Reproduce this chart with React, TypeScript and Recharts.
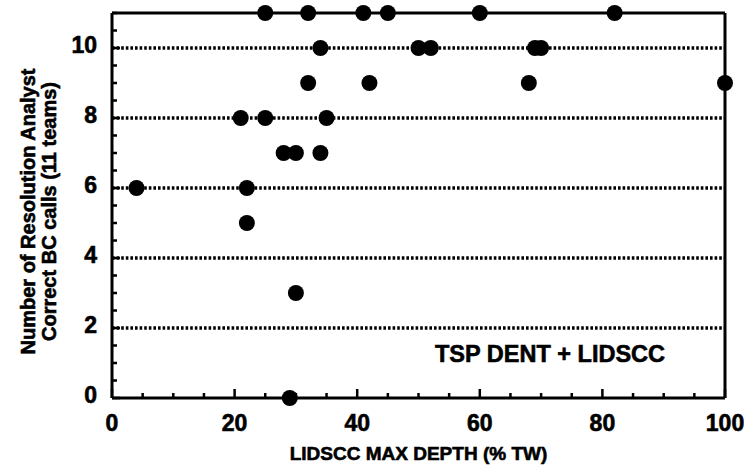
import { ReferenceLine, Scatter, ScatterChart, XAxis, YAxis } from 'recharts'

// LIDSCC max depth (% TW) and number of correct BC calls
const depth = [25, 32, 41, 45, 60, 82, 34, 50, 52, 69, 70, 32, 42, 68, 100, 21, 25, 35, 28, 30, 34, 4, 22, 22, 30, 29]
const calls = [11, 11, 11, 11, 11, 11, 10, 10, 10, 10, 10, 9, 9, 9, 9, 8, 8, 8, 7, 7, 7, 6, 6, 5, 3, 0]

const xTicks = [0, 5, 10, 15, 20, 25, 30, 35, 40, 45, 50, 55, 60, 65, 70, 75, 80, 85, 90, 95, 100]
const xLabels = [0, 20, 40, 60, 80, 100]
const yTicks = [0, 0.5, 1, 1.5, 2, 2.5, 3, 3.5, 4, 4.5, 5, 5.5, 6, 6.5, 7, 7.5, 8, 8.5, 9, 9.5, 10, 10.5, 11]
const yLabels = [0, 2, 4, 6, 8, 10]
const gridLevels = [2, 4, 6, 8, 10]

const data = depth.map((d, i) => ({ depth: d, calls: calls[i] }))

const FONT = '"Liberation Sans", Arial, Helvetica, sans-serif'
const axisLine = { stroke: '#000', strokeWidth: 3 }
// scanned original has heavy glyphs, thicken a little
const heavy = { fontWeight: 'bold', fontFamily: FONT, fill: '#000', stroke: '#000', strokeWidth: 0.6 }

const BottomTick = (p: any) => {
  const v = p.payload.value
  const major = xLabels.includes(v)
  return (
    <g>
      <line x1={p.x} x2={p.x} y1={p.y} y2={p.y - (major ? 9 : 5)} stroke="#000" strokeWidth={2.5} />
      {major && (
        <text x={p.x} y={p.y + 33} textAnchor="middle" fontSize={23} {...heavy}>
          {v}
        </text>
      )}
    </g>
  )
}

const TopTick = (p: any) => {
  const major = xLabels.includes(p.payload.value)
  return <line x1={p.x} x2={p.x} y1={p.y} y2={p.y + (major ? 10 : 6)} stroke="#000" strokeWidth={2.5} />
}

const LeftTick = (p: any) => {
  const v = p.payload.value
  const major = yLabels.includes(v)
  return (
    <g>
      <line x1={p.x} x2={p.x + (major ? 8 : 5)} y1={p.y} y2={p.y} stroke="#000" strokeWidth={2.5} />
      {major && (
        <text x={p.x - 15} y={p.y + 5} textAnchor="end" fontSize={23} {...heavy}>
          {v}
        </text>
      )}
    </g>
  )
}

const RightTick = (p: any) => {
  const major = yLabels.includes(p.payload.value)
  return <line x1={p.x} x2={p.x - (major ? 8 : 5)} y1={p.y} y2={p.y} stroke="#000" strokeWidth={2.5} />
}

const Dot = (p: any) => <circle cx={p.cx} cy={p.cy} r={8} fill="#000" />

const XTitle = (p: any) => {
  const vb = p.viewBox
  return (
    <text x={vb.x + vb.width / 2} y={vb.y + 62} textAnchor="middle" fontSize={19} {...heavy}>
      LIDSCC MAX DEPTH (% TW)
    </text>
  )
}

const YTitle = (p: any) => {
  const vb = p.viewBox
  const cy = vb.y + vb.height / 2 + 6
  return (
    <g fontSize={20} {...heavy}>
      <text x={35} y={cy} textAnchor="middle" transform={`rotate(-90 35 ${cy})`}>
        Number of Resolution Analyst
      </text>
      <text x={56} y={cy} textAnchor="middle" transform={`rotate(-90 56 ${cy})`}>
        Correct BC calls (11 teams)
      </text>
    </g>
  )
}

export default function App() {
  return (
    <div style={{ position: 'absolute', left: 0, top: 0, background: '#fff' }}>
      <ScatterChart width={744} height={467} margin={{ top: 0, right: 0, bottom: 0, left: 0 }}>
        <XAxis
          type="number"
          dataKey="depth"
          domain={[0, 100]}
          ticks={xTicks}
          interval={0}
          height={69}
          tickSize={0}
          tickMargin={0}
          axisLine={axisLine}
          tick={BottomTick}
          label={<XTitle />}
        />
        <XAxis
          xAxisId="top"
          orientation="top"
          type="number"
          domain={[0, 100]}
          ticks={xTicks}
          interval={0}
          height={13}
          tickSize={0}
          tickMargin={0}
          axisLine={axisLine}
          tick={TopTick}
        />
        <YAxis
          type="number"
          dataKey="calls"
          domain={[0, 11]}
          ticks={yTicks}
          interval={0}
          width={112}
          tickSize={0}
          tickMargin={0}
          axisLine={axisLine}
          tick={LeftTick}
          label={<YTitle />}
        />
        <YAxis
          yAxisId="right"
          orientation="right"
          type="number"
          domain={[0, 11]}
          ticks={yTicks}
          interval={0}
          width={19}
          tickSize={0}
          tickMargin={0}
          axisLine={axisLine}
          tick={RightTick}
        />
        {gridLevels.map(g => (
          <ReferenceLine key={g} y={g} stroke="#000" strokeWidth={3.4} strokeDasharray="2.6 2" />
        ))}
        <Scatter data={data} fill="#000" shape={Dot} isAnimationActive={false} />
      </ScatterChart>
      <svg width={744} height={467} style={{ position: 'absolute', left: 0, top: 0, pointerEvents: 'none' }}>
        <text x={435} y={362} fontSize={23.5} {...heavy}>
          TSP DENT + LIDSCC
        </text>
      </svg>
    </div>
  )
}
